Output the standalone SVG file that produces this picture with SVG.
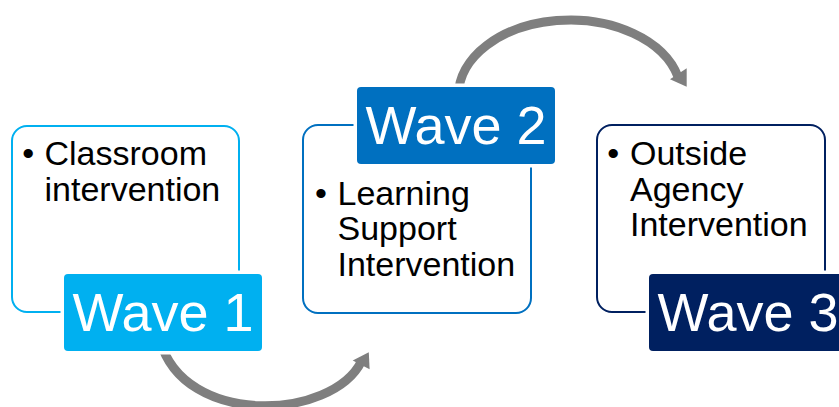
<svg xmlns="http://www.w3.org/2000/svg" width="839" height="407" viewBox="0 0 839 407">
  <style>
    .frame { fill: #FFFFFF; stroke-width: 2; }
    .tag { stroke: #FFFFFF; stroke-width: 7; paint-order: stroke; }
    .tagtext { font-family: "Liberation Sans", Arial, sans-serif; font-size: 54px; fill: #FFFFFF; text-anchor: middle; }
    .body { font-family: "Liberation Sans", Arial, sans-serif; font-size: 34px; fill: #000000; }
    .shaft { fill: none; stroke: #7F7F7F; stroke-width: 9; stroke-linecap: butt; }
    .head { fill: #7F7F7F; }
    .w1 { stroke: #00B0F0; } .f1 { fill: #00B0F0; }
    .w2 { stroke: #0070C0; } .f2 { fill: #0070C0; }
    .w3 { stroke: #002060; } .f3 { fill: #002060; }
  </style>
  <rect width="839" height="407" fill="#FFFFFF"/>

  <g id="connectors">
    <path class="shaft" d="M 160 340 C 183.8 428, 332.4 420, 361.5 361.2"/>
    <polygon class="head" points="352.7,360.5 368.8,352.3 369.6,369.3"/>
    <path class="shaft" d="M 458.5 95 A 111.5 75.5 0 0 1 678.1 77"/>
    <polygon class="head" points="670,79.3 686.7,68.3 686.7,86.7"/>
  </g>

  <g id="wave1">
    <rect class="frame w1" x="12" y="126" width="227" height="186" rx="15"/>
    <text class="body" x="22.2" y="165">•</text>
    <text class="body" x="44.5" y="165">Classroom</text>
    <text class="body" x="44.5" y="200.5">intervention</text>
    <rect class="tag f1" x="64" y="274" width="198" height="77" rx="4"/>
    <text class="tagtext" x="163" y="331">Wave 1</text>
  </g>

  <g id="wave2">
    <rect class="frame w2" x="303" y="125" width="228" height="188" rx="15"/>
    <text class="body" x="314.9" y="204.5">•</text>
    <text class="body" x="337.5" y="204.5">Learning</text>
    <text class="body" x="337.5" y="240">Support</text>
    <text class="body" x="337.5" y="275.5">Intervention</text>
    <rect class="tag f2" x="357" y="87" width="198" height="77" rx="4"/>
    <text class="tagtext" x="456" y="144">Wave 2</text>
  </g>

  <g id="wave3">
    <rect class="frame w3" x="597" y="125" width="228" height="187" rx="15"/>
    <text class="body" x="607.2" y="165">•</text>
    <text class="body" x="630" y="165">Outside</text>
    <text class="body" x="630" y="200.5">Agency</text>
    <text class="body" x="630" y="236">Intervention</text>
    <rect class="tag f3" x="649" y="274" width="198" height="77" rx="4"/>
    <text class="tagtext" x="748" y="331">Wave 3</text>
  </g>
</svg>
